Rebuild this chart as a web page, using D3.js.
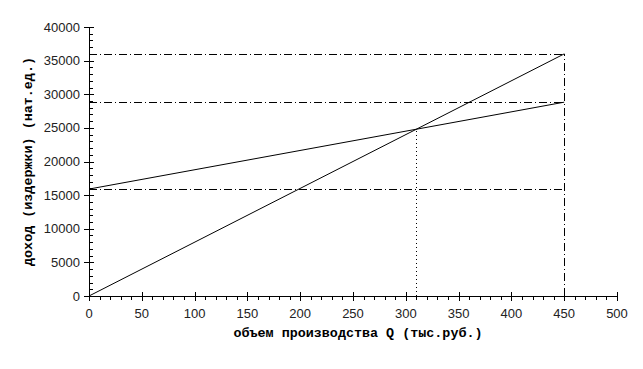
<!DOCTYPE html>
<html><head><meta charset="utf-8">
<script src="https://cdn.jsdelivr.net/npm/d3@7"></script>
<style>body{margin:0;background:#fff}svg{display:block}</style>
</head><body>
<svg id="c" width="643" height="369"></svg>
<script>
const qValues = [0, 450];
const revenue = [0, 36000];
const cost = [15900, 28820];
const breakEven = {q: 310, v: 24800};
const xTicks = [0,50,100,150,200,250,300,350,400,450,500];
const yTicks = [0,5000,10000,15000,20000,25000,30000,35000,40000];
const xTitle = "объем производства Q (тыс.руб.)";
const yTitle = "доход (издержки) (нат.ед.)";

const svg = d3.select("#c");
const L=89, R=617, T=27, B=296;
const x = d3.scaleLinear().domain([0,500]).range([L,R]);
const y = d3.scaleLinear().domain([0,40000]).range([B,T]);

// guide lines
const dashDot = "8,3,1,3";
const g = svg.append("g").attr("stroke","#000").attr("stroke-width",1).attr("fill","none");
[revenue[1], cost[1], cost[0]].forEach(v=>{
  g.append("line").attr("x1",x(0)).attr("x2",x(qValues[1])).attr("y1",Math.round(y(v))+0.5).attr("y2",Math.round(y(v))+0.5).attr("stroke-dasharray",dashDot);
});
g.append("line").attr("x1",Math.round(x(qValues[1]))+0.5).attr("x2",Math.round(x(qValues[1]))+0.5).attr("y1",y(0)).attr("y2",y(revenue[1])).attr("stroke-dasharray",dashDot);
g.append("line").attr("x1",Math.round(x(breakEven.q))+0.5).attr("x2",Math.round(x(breakEven.q))+0.5).attr("y1",y(0)).attr("y2",y(breakEven.v)).attr("stroke-dasharray","1,3");

// lines
const line = d3.line().x(d=>x(d[0])).y(d=>y(d[1]));
svg.append("path").datum(qValues.map((q,i)=>[q,revenue[i]])).attr("d",line).attr("stroke","#000").attr("fill","none").attr("stroke-width",1);
svg.append("path").datum(qValues.map((q,i)=>[q,cost[i]])).attr("d",line).attr("stroke","#000").attr("fill","none").attr("stroke-width",1);

// axes
const ax = svg.append("g").attr("stroke","#000").attr("stroke-width",1);
ax.append("line").attr("x1",L).attr("x2",R).attr("y1",B+0.5).attr("y2",B+0.5);
ax.append("line").attr("x1",L+0.5).attr("x2",L+0.5).attr("y1",T).attr("y2",B);
d3.range(0,501,10).forEach(v=>{
  const px = Math.round(x(v))+0.5;
  if (v%50===0) ax.append("line").attr("x1",px).attr("x2",px).attr("y1",B-4).attr("y2",B+5);
  else ax.append("line").attr("x1",px).attr("x2",px).attr("y1",B).attr("y2",B+4);
});
d3.range(0,40001,1000).forEach(v=>{
  const py = Math.round(y(v))+0.5;
  if (v%5000===0) ax.append("line").attr("x1",L-5).attr("x2",L+5).attr("y1",py).attr("y2",py);
  else ax.append("line").attr("x1",L).attr("x2",L+4).attr("y1",py).attr("y2",py);
});
const tf = "'Liberation Sans', Arial, sans-serif";
svg.append("g").selectAll("text").data(xTicks).join("text")
  .attr("x",d=>x(d)).attr("y",B+22).attr("text-anchor","middle")
  .attr("font-family",tf).attr("font-size",13).attr("fill","#222").text(d=>d);
svg.append("g").selectAll("text").data(yTicks).join("text")
  .attr("x",L-9).attr("y",d=>y(d)+4.5).attr("text-anchor","end")
  .attr("font-family",tf).attr("font-size",13).attr("fill","#222").text(d=>d);
const mf = "'Liberation Mono', 'DejaVu Sans Mono', monospace";
svg.append("text").attr("x",358).attr("y",337).attr("text-anchor","middle")
  .attr("font-family",mf).attr("font-weight","bold").attr("font-size",13.4).attr("fill","#000").text(xTitle);
svg.append("text").attr("transform",`translate(32,${(T+B)/2}) rotate(-90)`).attr("text-anchor","middle")
  .attr("font-family",mf).attr("font-weight","bold").attr("font-size",13.4).attr("fill","#000").text(yTitle);
</script>
</body></html>
